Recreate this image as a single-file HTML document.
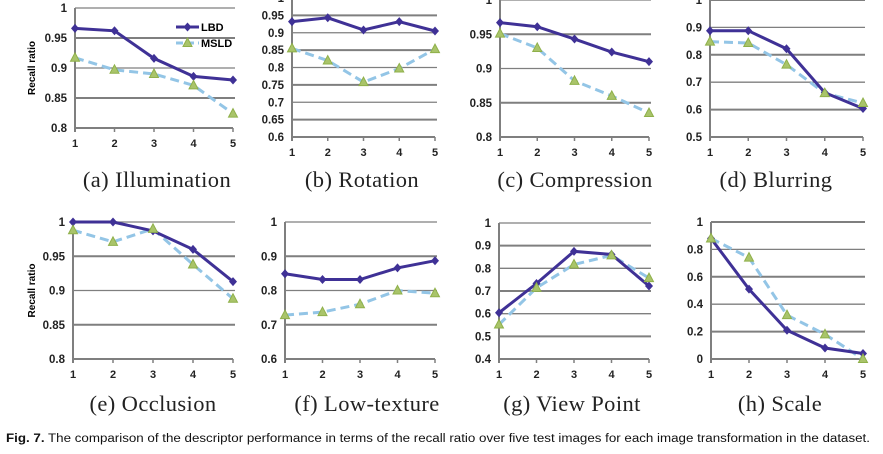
<!DOCTYPE html>
<html><head><meta charset="utf-8"><style>
html,body{margin:0;padding:0;background:#fff;}
svg{display:block;}
</style></head><body>
<svg id="fig" width="883" height="454" xmlns="http://www.w3.org/2000/svg"></svg>
<script>
const categories = [1, 2, 3, 4, 5];
const lbdA = [0.966, 0.962, 0.916, 0.886, 0.880];
const msldA = [0.917, 0.897, 0.890, 0.871, 0.824];
const lbdB = [0.932, 0.943, 0.908, 0.932, 0.905];
const msldB = [0.855, 0.820, 0.758, 0.797, 0.853];
const lbdC = [0.967, 0.961, 0.943, 0.924, 0.910];
const msldC = [0.951, 0.930, 0.882, 0.860, 0.835];
const lbdD = [0.888, 0.888, 0.822, 0.662, 0.604];
const msldD = [0.848, 0.843, 0.764, 0.660, 0.624];
const lbdE = [1.0, 1.0, 0.987, 0.960, 0.913];
const msldE = [0.988, 0.971, 0.990, 0.938, 0.888];
const lbdF = [0.849, 0.832, 0.832, 0.866, 0.887];
const msldF = [0.728, 0.737, 0.760, 0.800, 0.792];
const lbdG = [0.604, 0.733, 0.875, 0.861, 0.722];
const msldG = [0.552, 0.714, 0.817, 0.857, 0.757];
const lbdH = [0.88, 0.51, 0.21, 0.08, 0.04];
const msldH = [0.88, 0.74, 0.32, 0.18, 0.0];
const ticksA = ["0.8","0.85","0.9","0.95","1"];
const ticksB = ["0.6","0.65","0.7","0.75","0.8","0.85","0.9","0.95","1"];
const ticksC = ["0.8","0.85","0.9","0.95","1"];
const ticksD = ["0.5","0.6","0.7","0.8","0.9","1"];
const ticksE = ["0.8","0.85","0.9","0.95","1"];
const ticksF = ["0.6","0.7","0.8","0.9","1"];
const ticksG = ["0.4","0.5","0.6","0.7","0.8","0.9","1"];
const ticksH = ["0","0.2","0.4","0.6","0.8","1"];
const captions = ["(a) Illumination","(b) Rotation","(c) Compression","(d) Blurring","(e) Occlusion","(f) Low-texture","(g) View Point","(h) Scale"];

const NS = "http://www.w3.org/2000/svg";
const svg = document.getElementById("fig");
function mk(tag, attrs, parent){
  const e = document.createElementNS(NS, tag);
  for (const k in attrs) e.setAttribute(k, attrs[k]);
  (parent||svg).appendChild(e);
  return e;
}
const panels = [
  {id:"a", lbd:lbdA, msld:msldA, ticks:ticksA, x0:75, x1:233, yTop:8, yBot:128, capY:187, capX:157, ylabel:true},
  {id:"b", lbd:lbdB, msld:msldB, ticks:ticksB, x0:292, x1:435, yTop:-2, yBot:137, capY:187, capX:362},
  {id:"c", lbd:lbdC, msld:msldC, ticks:ticksC, x0:500, x1:649, yTop:0, yBot:137, capY:187, capX:575},
  {id:"d", lbd:lbdD, msld:msldD, ticks:ticksD, x0:710, x1:863, yTop:0, yBot:137, capY:187, capX:776},
  {id:"e", lbd:lbdE, msld:msldE, ticks:ticksE, x0:73, x1:233, yTop:222, yBot:359, capY:411, capX:153, ylabel:true},
  {id:"f", lbd:lbdF, msld:msldF, ticks:ticksF, x0:285, x1:435, yTop:222, yBot:359, capY:411, capX:367},
  {id:"g", lbd:lbdG, msld:msldG, ticks:ticksG, x0:499, x1:649, yTop:223, yBot:359, capY:411, capX:572},
  {id:"h", lbd:lbdH, msld:msldH, ticks:ticksH, x0:711, x1:863, yTop:222, yBot:359, capY:411, capX:780}
];
panels.forEach((p, pi) => {
  const g = mk("g", {});
  
  
  const tmin = parseFloat(p.ticks[0]), tmax = parseFloat(p.ticks[p.ticks.length-1]);
  const yS = v => p.yBot - (v - tmin) / (tmax - tmin) * (p.yBot - p.yTop);
  const xS = c => p.x0 + (c - 1) / (categories.length - 1) * (p.x1 - p.x0);
  p.ticks.forEach((t, i) => {
    const y = yS(parseFloat(t));
    if (i > 0) {
      const gl = mk("line", {x1:p.x0, x2:p.x1+2, y1:y, y2:y, stroke:"#7f7f7f", "stroke-width": (i%2? 2:1.3)}, g);
      
      
    }
    const tl = mk("text", {x:p.x0-8, y:y+4, "text-anchor":"end", "font-family":"Liberation Sans, sans-serif", "font-size":"11.5", "font-weight":"bold", fill:"#222"}, g);
    tl.textContent = t;
    
    
  });
  const ax = mk("line", {x1:p.x0, x2:p.x1, y1:p.yBot, y2:p.yBot, stroke:"#7f7f7f", "stroke-width":2}, g);
  
  
  const ay = mk("line", {x1:p.x0, x2:p.x0, y1:Math.max(p.yTop,0), y2:p.yBot+4, stroke:"#7f7f7f", "stroke-width":2}, g);
  
  
  categories.forEach(c => {
    const x = xS(c);
    mk("line", {x1:x, x2:x, y1:p.yBot, y2:p.yBot+4, stroke:"#7f7f7f", "stroke-width":1.5}, g);
    const xl = mk("text", {x:x, y:p.yBot+19, "text-anchor":"middle", "font-family":"Liberation Sans, sans-serif", "font-size":"11", "font-weight":"bold", fill:"#222"}, g);
    xl.textContent = c;
    
    
  });
  if (p.ylabel) {
    const cy = (p.yTop + p.yBot) / 2;
    const yl = mk("text", {x:0, y:0, transform:"translate(35," + cy + ") rotate(-90)", "text-anchor":"middle", "font-family":"Liberation Sans, sans-serif", "font-size":"10", "font-weight":"bold", fill:"#000"}, g);
    yl.textContent = "Recall ratio";
    
    
  }
  const ptsM = p.msld.map((v,i) => xS(categories[i]) + "," + yS(v)).join(" ");
  const lm = mk("polyline", {points:ptsM, fill:"none", stroke:"#93c5e6", "stroke-width":3, "stroke-dasharray":"9,5"}, g);
  
  
  const ptsL = p.lbd.map((v,i) => xS(categories[i]) + "," + yS(v)).join(" ");
  const ll = mk("polyline", {points:ptsL, fill:"none", stroke:"#3f3196", "stroke-width":3}, g);
  
  
  p.lbd.forEach((v,i) => {
    const x = xS(categories[i]), y = yS(v);
    const d = mk("polygon", {points:`${x},${y-4.5} ${x+4},${y} ${x},${y+4.5} ${x-4},${y}`, fill:"#3f3196"}, g);
    
    
  });
  p.msld.forEach((v,i) => {
    const x = xS(categories[i]), y = yS(v);
    const t = mk("polygon", {points:`${x},${y-5} ${x+4.5},${y+3.5} ${x-4.5},${y+3.5}`, fill:"#a9c46a", stroke:"#8fb04a", "stroke-width":1}, g);
    
    
  });
  const cap = mk("text", {x:p.capX, y:p.capY, "text-anchor":"middle", "font-family":"Liberation Serif, serif", "font-size":"22.5", "letter-spacing":"0.4", fill:"#222"}, g);
  cap.textContent = captions[pi];
  
  
});
// legend
const lg = mk("g", {});


mk("line", {x1:176, x2:199, y1:27, y2:27, stroke:"#3f3196", "stroke-width":3}, lg);
mk("polygon", {points:"187.5,22.5 191.5,27 187.5,31.5 183.5,27", fill:"#3f3196"}, lg);
const t1 = mk("text", {x:201, y:31, "font-family":"Liberation Sans, sans-serif", "font-size":"11", "font-weight":"bold"}, lg);
t1.textContent = "LBD";


mk("line", {x1:176, x2:199, y1:43, y2:43, stroke:"#93c5e6", "stroke-width":3, "stroke-dasharray":"7,4"}, lg);
mk("polygon", {points:"187.5,38 192,46.5 183,46.5", fill:"#a9c46a", stroke:"#8fb04a"}, lg);
const t2 = mk("text", {x:201, y:47, "font-family":"Liberation Sans, sans-serif", "font-size":"11", "font-weight":"bold"}, lg);
t2.textContent = "MSLD";


// figure caption
const fc = mk("text", {x:6, y:442, "font-family":"Liberation Sans, sans-serif", "font-size":"11.5", textLength:"864", lengthAdjust:"spacingAndGlyphs", fill:"#111"});


const b = mk("tspan", {"font-weight":"bold"}, fc);
b.textContent = "Fig. 7.";
const r = mk("tspan", {}, fc);
r.textContent = " The comparison of the descriptor performance in terms of the recall ratio over five test images for each image transformation in the dataset.";
</script>
</body></html>
